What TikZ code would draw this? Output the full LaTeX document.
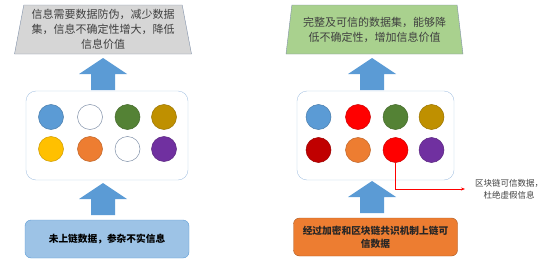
\documentclass[tikz,border=0pt]{standalone}
\usepackage{fontspec}
\setmainfont{Noto Sans CJK SC}
\usetikzlibrary{arrows.meta,shapes.geometric}

\definecolor{edgegray}{HTML}{8090A8}
\definecolor{goalgray}{HTML}{D6D6D6}
\definecolor{goalgreen}{HTML}{A9D18E}
\definecolor{poolblue}{HTML}{A8C4E2}
\definecolor{liftblue}{HTML}{5B9BD5}
\definecolor{srcblue}{HTML}{9DC3E6}
\definecolor{srcorange}{HTML}{ED7D31}
\definecolor{txtgray}{HTML}{404040}
\definecolor{cblue}{HTML}{5B9BD5}
\definecolor{cgreen}{HTML}{548235}
\definecolor{cgold}{HTML}{BF9000}
\definecolor{cyellow}{HTML}{FFC000}
\definecolor{corange}{HTML}{ED7D31}
\definecolor{cpurple}{HTML}{7030A0}
\definecolor{cred}{HTML}{FF0000}
\definecolor{cdarkred}{HTML}{C00000}

\tikzset{
  pics/liftarrow/.style={code={
    \fill[liftblue] (-12,0) -- (-12,-16) -- (-24,-16) -- (0,-32) -- (24,-16) -- (12,-16) -- (12,0) -- cycle;
  }}
}

\begin{document}
\begin{tikzpicture}[x=1pt, y=-1pt,
  goal/.style={trapezium, trapezium stretches body, trapezium left angle=77,
    trapezium right angle=77, minimum width=177pt, minimum height=49pt,
    draw=edgegray, align=center, inner sep=0pt, text=txtgray,
    font=\fontsize{11}{15}\selectfont},
  pool/.style={draw=poolblue, rounded corners=10pt, minimum height=89pt},
  dot/.style={circle, minimum size=25pt, inner sep=0pt, line width=0.5pt},
  source/.style={rounded corners=6pt, minimum width=164pt, minimum height=38pt,
    align=center, font=\bfseries\fontsize{9.7}{13}\selectfont},
  note/.style={align=center, inner sep=0pt, text=txtgray,
    font=\fontsize{8.5}{12}\selectfont}
]
\useasboundingbox (0,0) rectangle (546,265);

% Left: data without chain
\node[goal, fill=goalgray] (goalL) at (103,29.5)
  {信息需要数据防伪，减少数据\\集，信息不确定性增大，降低\\信息价值};
\pic at (103,90) {liftarrow};
\node[pool, minimum width=162pt] (poolL) at (107,135.5) {};
\node[dot, fill=cblue, draw=cblue!80!black] (l1) at (51,117) {};
\node[dot, fill=white, draw=edgegray] (l2) at (90,117) {};
\node[dot, fill=cgreen, draw=cgreen!80!black] (l3) at (127.5,117) {};
\node[dot, fill=cgold, draw=cgold!80!black] (l4) at (164,117) {};
\node[dot, fill=cyellow, draw=cyellow!80!black] (l5) at (51,149) {};
\node[dot, fill=corange, draw=corange!80!black] (l6) at (90,149) {};
\node[dot, fill=white, draw=edgegray] (l7) at (127.5,149) {};
\node[dot, fill=cpurple, draw=cpurple!80!black] (l8) at (164,149) {};
\pic at (103,215) {liftarrow};
\node[source, fill=srcblue, draw=liftblue] (srcL) at (107,239)
  {未上链数据，参杂不实信息};

% Right: trusted data on chain
\node[goal, fill=goalgreen] (goalR) at (374.5,29.5)
  {完整及可信的数据集，能够降\\低不确定性，增加信息价值};
\pic at (372,90) {liftarrow};
\node[pool, minimum width=157pt] (poolR) at (375.5,135.5) {};
\node[dot, fill=cblue, draw=cblue!80!black] (r1) at (318.5,117) {};
\node[dot, fill=cred, draw=cred!80!black] (r2) at (358,117) {};
\node[dot, fill=cgreen, draw=cgreen!80!black] (r3) at (395.5,117) {};
\node[dot, fill=cgold, draw=cgold!80!black] (r4) at (431.5,117) {};
\node[dot, fill=cdarkred, draw=cdarkred!80!black] (r5) at (318.5,150) {};
\node[dot, fill=corange, draw=corange!80!black] (r6) at (358,150) {};
\node[dot, fill=cred, draw=cred!80!black] (r7) at (395.5,150) {};
\node[dot, fill=cpurple, draw=cpurple!80!black] (r8) at (431.5,150) {};
\pic at (372,213) {liftarrow};
\node[source, fill=srcorange, draw=srcorange!70!black, text=black!85] (srcR) at (375.5,237)
  {经过加密和区块链共识机制上链可\\信数据};

% trusted data note
\node[note, anchor=west] (trust) at (475,189) {区块链可信数据，\\杜绝虚假信息};
\draw[cred, line width=0.8pt, -{Stealth[length=4pt]}, shorten >=10pt] (r7.south) |- (trust.west);

\end{tikzpicture}
\end{document}
